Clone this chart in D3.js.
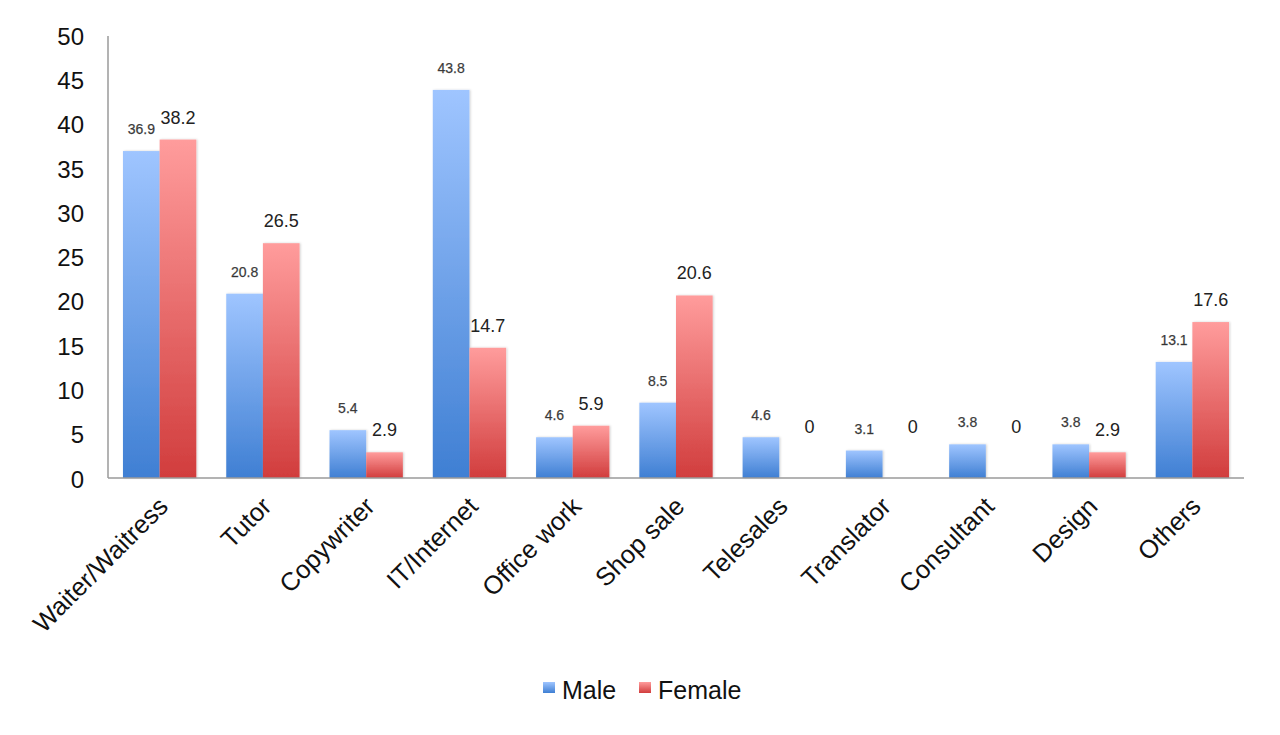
<!DOCTYPE html>
<html>
<head>
<meta charset="utf-8">
<script src="https://cdn.jsdelivr.net/npm/d3@7"></script>
<style>
  html, body { margin: 0; padding: 0; background: #fff; }
  svg { display: block; font-family: "Liberation Sans", Arial, sans-serif; }
</style>
</head>
<body>
<svg id="chart" width="1280" height="735"></svg>
<script>
const categories = ["Waiter/Waitress", "Tutor", "Copywriter", "IT/Internet", "Office work",
  "Shop sale", "Telesales", "Translator", "Consultant", "Design", "Others"];
const maleValues   = [36.9, 20.8, 5.4, 43.8, 4.6, 8.5, 4.6, 3.1, 3.8, 3.8, 13.1];
const femaleValues = [38.2, 26.5, 2.9, 14.7, 5.9, 20.6, 0, 0, 0, 2.9, 17.6];
const seriesNames = ["Male", "Female"];
const yTicks = [0, 5, 10, 15, 20, 25, 30, 35, 40, 45, 50];

const svg = d3.select("#chart");
const margin = { left: 108, right: 36, top: 35, bottom: 257 };
const W = 1280, H = 735;

const x = d3.scaleBand().domain(categories).range([margin.left, W - margin.right]).paddingInner(0.29).paddingOuter(0.145);
const xs = d3.scaleBand().domain(seriesNames).range([0, x.bandwidth()]);
const y = d3.scaleLinear().domain([0, 50]).range([H - margin.bottom, margin.top]);

const defs = svg.append("defs");
const grads = [
  { id: "gMale", top: "#9fc5ff", bottom: "#3f7fd3" },
  { id: "gFemale", top: "#ff9c9c", bottom: "#d13d3d" }
];
grads.forEach(g => {
  const lg = defs.append("linearGradient").attr("id", g.id).attr("x1", 0).attr("y1", 0).attr("x2", 0).attr("y2", 1);
  lg.append("stop").attr("offset", "0%").attr("stop-color", g.top);
  lg.append("stop").attr("offset", "100%").attr("stop-color", g.bottom);
});
const f = defs.append("filter").attr("id", "shadow").attr("x", "-20%").attr("y", "-20%").attr("width", "140%").attr("height", "140%");
f.append("feDropShadow").attr("dx", 1).attr("dy", 0).attr("stdDeviation", 1).attr("flood-color", "#000").attr("flood-opacity", 0.18);

const data = categories.map((c, i) => ({ cat: c, values: [
  { s: "Male", v: maleValues[i] }, { s: "Female", v: femaleValues[i] }] }));

// bars
const groups = svg.append("g").selectAll("g").data(data).join("g")
  .attr("transform", d => `translate(${x(d.cat)},0)`);
groups.selectAll("rect").data(d => d.values.filter(e => e.v > 0)).join("rect")
  .attr("x", d => xs(d.s))
  .attr("width", xs.bandwidth())
  .attr("y", d => y(d.v))
  .attr("height", d => y(0) - y(d.v))
  .attr("fill", d => d.s === "Male" ? "url(#gMale)" : "url(#gFemale)")
  .attr("filter", "url(#shadow)");

// value labels
groups.selectAll("text").data(d => d.values).join("text")
  .attr("x", d => xs(d.s) + xs.bandwidth() / 2 + (d.v === 0 ? 12 : 0))
  .attr("y", d => d.v === 0 ? y(0) - 45 : y(d.v) - (d.s === "Male" ? 17 : 16))
  .attr("text-anchor", "middle")
  .attr("font-size", d => d.s === "Male" ? 14 : 18)
  .attr("fill", d => d.s === "Male" ? "#333" : "#222")
  .attr("stroke", d => d.s === "Male" ? "#555" : "none")
  .attr("stroke-width", 0.25)
  .text(d => d.v);

// axes lines
svg.append("line").attr("x1", margin.left).attr("x2", margin.left)
  .attr("y1", y(50) + 1).attr("y2", y(0)).attr("stroke", "#9a9a9a").attr("stroke-width", 1.5);
svg.append("line").attr("x1", margin.left).attr("x2", W - margin.right)
  .attr("y1", y(0)).attr("y2", y(0)).attr("stroke", "#9a9a9a").attr("stroke-width", 1.5);

// y tick labels
svg.append("g").selectAll("text").data(yTicks).join("text")
  .attr("x", 84).attr("y", d => y(d) + 1)
  .attr("dy", "0.36em")
  .attr("text-anchor", "end")
  .attr("font-size", 24)
  .attr("fill", "#111")
  .text(d => d);

// x labels
svg.append("g").selectAll("text").data(categories).join("text")
  .attr("transform", d => `translate(${x(d) + x.bandwidth() / 2 + 10},${y(0) + 30}) rotate(-45)`)
  .attr("text-anchor", "end")
  .attr("font-size", 25.5)
  .attr("fill", "#111")
  .text(d => d);

// legend
const legendItems = [
  { name: "Male", color: "url(#gMale)", x: 543 },
  { name: "Female", color: "url(#gFemale)", x: 639 }
];
const lg = svg.append("g").selectAll("g").data(legendItems).join("g")
  .attr("transform", d => `translate(${d.x},682)`);
lg.append("rect").attr("width", 12).attr("height", 11).attr("fill", d => d.color);
lg.append("text").attr("x", 19).attr("y", 17).attr("font-size", 25).attr("fill", "#111").text(d => d.name);
</script>
</body>
</html>
